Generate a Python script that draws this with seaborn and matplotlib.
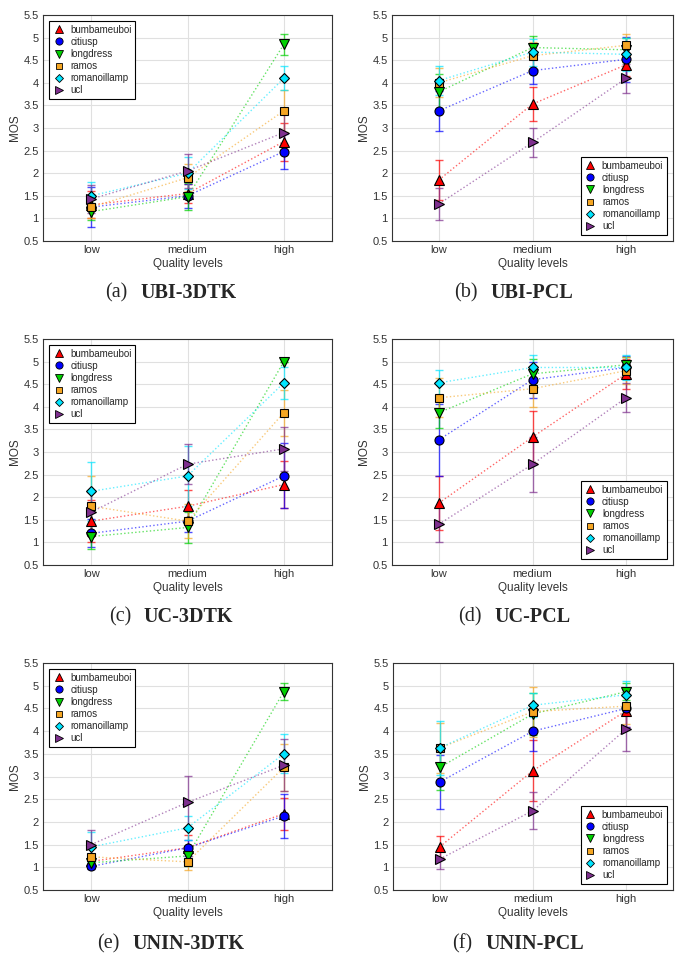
import matplotlib
matplotlib.use("Agg")
import matplotlib.pyplot as plt
from matplotlib.lines import Line2D
from matplotlib.ticker import FormatStrFormatter
import seaborn as sns
import numpy as np
import pandas as pd

levels = ['low', 'medium', 'high']
contents = ['bumbameuboi', 'citiusp', 'longdress', 'ramos', 'romanoillamp', 'ucl']

# mean opinion scores, one row per content (low, medium, high)
ubi_3dtk_mos = [[1.30, 1.55, 2.70], [1.25, 1.50, 2.48], [1.15, 1.48, 4.85],
                [1.25, 1.90, 3.38], [1.50, 2.00, 4.10], [1.43, 2.05, 2.90]]
ubi_3dtk_ci = [[0.30, 0.21, 0.42], [0.44, 0.27, 0.38], [0.18, 0.30, 0.24],
               [0.25, 0.30, 0.47], [0.30, 0.36, 0.27], [0.32, 0.37, 0.45]]

ubi_pcl_mos = [[1.85, 3.53, 4.40], [3.38, 4.27, 4.52], [3.80, 4.78, 4.73],
               [4.00, 4.60, 4.83], [4.05, 4.68, 4.63], [1.32, 2.68, 4.10]]
ubi_pcl_ci = [[0.45, 0.37, 0.25], [0.44, 0.30, 0.50], [0.40, 0.25, 0.27],
              [0.32, 0.30, 0.24], [0.33, 0.30, 0.37], [0.36, 0.32, 0.32]]

uc_3dtk_mos = [[1.47, 1.80, 2.28], [1.20, 1.47, 2.47], [1.13, 1.33, 5.00],
               [1.80, 1.47, 3.87], [2.13, 2.47, 4.53], [1.67, 2.73, 3.07]]
uc_3dtk_ci = [[0.46, 0.37, 0.52], [0.31, 0.25, 0.72], [0.28, 0.34, 0.00],
              [0.66, 0.37, 0.51], [0.65, 0.66, 0.35], [0.45, 0.44, 0.49]]

uc_pcl_mos = [[1.87, 3.33, 4.73], [3.27, 4.60, 4.87], [3.87, 4.73, 4.93],
              [4.20, 4.40, 4.80], [4.53, 4.87, 4.87], [1.40, 2.73, 4.20]]
uc_pcl_ci = [[0.60, 0.57, 0.33], [0.80, 0.40, 0.25], [0.35, 0.32, 0.17],
             [0.43, 0.41, 0.30], [0.28, 0.28, 0.28], [0.40, 0.61, 0.32]]

unin_3dtk_mos = [[1.13, 1.43, 2.18], [1.02, 1.43, 2.13], [1.10, 1.25, 4.87],
                 [1.23, 1.12, 3.20], [1.45, 1.87, 3.50], [1.50, 2.43, 3.25]]
unin_3dtk_ci = [[0.15, 0.29, 0.35], [0.05, 0.18, 0.48], [0.12, 0.23, 0.18],
                [0.25, 0.17, 0.51], [0.33, 0.26, 0.43], [0.33, 0.59, 0.57]]

unin_pcl_mos = [[1.45, 3.13, 4.45], [2.88, 4.00, 4.50], [3.20, 4.38, 4.87],
                [3.63, 4.43, 4.55], [3.63, 4.57, 4.80], [1.18, 2.25, 4.05]]
unin_pcl_ci = [[0.25, 0.67, 0.35], [0.60, 0.43, 0.40], [0.50, 0.47, 0.18],
               [0.55, 0.55, 0.39], [0.60, 0.27, 0.30], [0.21, 0.41, 0.48]]

panels = [
    ('(a)', 'UBI-3DTK', ubi_3dtk_mos, ubi_3dtk_ci, 'upper left'),
    ('(b)', 'UBI-PCL', ubi_pcl_mos, ubi_pcl_ci, 'lower right'),
    ('(c)', 'UC-3DTK', uc_3dtk_mos, uc_3dtk_ci, 'upper left'),
    ('(d)', 'UC-PCL', uc_pcl_mos, uc_pcl_ci, 'lower right'),
    ('(e)', 'UNIN-3DTK', unin_3dtk_mos, unin_3dtk_ci, 'upper left'),
    ('(f)', 'UNIN-PCL', unin_pcl_mos, unin_pcl_ci, 'lower right'),
]

colors = ['#ff0000', '#0000ff', '#00d000', '#f5a623', '#00e5ff', '#7e2f8e']
markers = ['^', 'o', 'v', 's', 'D', '>']
msizes = [7, 6.5, 7, 5.5, 5, 7]

sns.set_style('whitegrid')
plt.rcParams['font.family'] = ['Liberation Sans', 'DejaVu Sans']

fig = plt.figure(figsize=(6.81, 9.58), dpi=100)

# axes boxes in pixels: left, top, right, bottom
boxes = [(43, 15, 332, 241), (392, 15, 673, 241),
         (43, 339, 332, 565), (392, 339, 673, 565),
         (43, 663, 332, 890), (393, 663, 673, 890)]
caption_pos = [(171, 293), (514, 293), (171, 617), (514, 617), (171, 944), (518, 944)]

W, H = 681, 958
x = np.array([1, 2, 3])
captions = []

for (tag, name, mos, ci, loc), (l, t, r, b), (cx, cy) in zip(panels, boxes, caption_pos):
    ax = fig.add_axes([l / W, 1 - b / H, (r - l) / W, (b - t) / H])

    df = pd.DataFrame({
        'level': np.tile(x, len(contents)),
        'mos': np.ravel(mos),
        'ci': np.ravel(ci),
        'content': np.repeat(contents, len(x)),
    })

    for i, c in enumerate(contents):
        d = df[df['content'] == c]
        # dotted connecting line
        sns.lineplot(x=d['level'], y=d['mos'], ax=ax, color=colors[i], linestyle=':',
                     lw=1.0, alpha=0.6, estimator=None, zorder=2)
        ax.errorbar(d['level'], d['mos'], yerr=d['ci'], fmt='none', ecolor=colors[i],
                    elinewidth=1.0, capsize=3, capthick=1.0, alpha=0.7, zorder=3)
        ax.plot(d['level'], d['mos'], linestyle='none', marker=markers[i], ms=msizes[i],
                mfc=colors[i], mec='black', mew=0.8, zorder=4)

    ax.set_xlim(0.5, 3.5)
    ax.set_ylim(0.5, 5.5)
    ax.set_xticks(x)
    ax.set_xticklabels(levels)
    ax.set_yticks(np.arange(0.5, 5.51, 0.5))
    ax.yaxis.set_major_formatter(FormatStrFormatter('%g'))
    ax.set_xlabel('Quality levels', fontsize=8.5, color='#333333', labelpad=2)
    ax.set_ylabel('MOS', fontsize=8.5, color='#333333', labelpad=2)
    ax.tick_params(labelsize=8, colors='#333333', direction='in', length=2, pad=3)
    ax.grid(True, color='#e0e0e0', lw=0.8)
    for s in ax.spines.values():
        s.set_color('#333333')
        s.set_linewidth(0.8)

    handles = [Line2D([0], [0], marker=markers[i], linestyle='none', ms=msizes[i] - 1.3,
                      mfc=colors[i], mec='black', mew=0.6, label=contents[i])
               for i in range(len(contents))]
    leg = ax.legend(handles=handles, loc=loc, fontsize=7, frameon=True, fancybox=False,
                    handlelength=1.2, handletextpad=0.6, labelspacing=0.22,
                    borderpad=0.4, borderaxespad=0.6)
    leg.get_frame().set_edgecolor('black')
    leg.get_frame().set_linewidth(0.8)
    leg.get_frame().set_alpha(1.0)

    t1 = fig.text(0, 1 - cy / H, tag, ha='left', va='center', fontsize=14.5,
                  family='Liberation Serif')
    t2 = fig.text(0, 1 - cy / H, name, ha='left', va='center', fontsize=14.5,
                  family='Liberation Serif', fontweight='bold')
    captions.append((t1, t2, cx))

# center each caption "(x)  NAME" on its column
fig.canvas.draw()
rend = fig.canvas.get_renderer()
gap = 13
for t1, t2, cx in captions:
    w1 = t1.get_window_extent(rend).width
    w2 = t2.get_window_extent(rend).width
    x0 = cx - (w1 + gap + w2) / 2
    t1.set_x(x0 / W)
    t2.set_x((x0 + w1 + gap) / W)

fig.savefig('out.png', dpi=100)
